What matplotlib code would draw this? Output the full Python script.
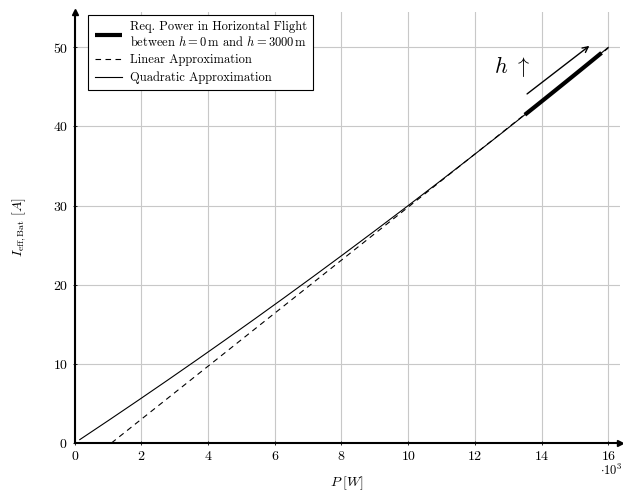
import numpy as np
import matplotlib
matplotlib.use("Agg")
import matplotlib.pyplot as plt

plt.rcParams['font.family'] = 'serif'
plt.rcParams['font.serif'] = ['cmr10', 'DejaVu Serif']
plt.rcParams['mathtext.fontset'] = 'cm'
plt.rcParams['axes.formatter.use_mathtext'] = True

# Data (power in 10^3 W, current in A)
quad_coef = [0.0, 2.792, 0.0208]          # I = a + b P + c P^2
lin_coef = [-3.69, 3.35]                  # I = a + b P
P_quad = np.linspace(0.15, 16.0, 200)
P_lin = np.linspace(1.1, 16.0, 200)
P_req = np.linspace(13.5, 15.8, 50)
arrow_start = (13.5, 43.9)
arrow_end = (15.5, 50.4)
x_ticks = [0, 2, 4, 6, 8, 10, 12, 14, 16]
y_ticks = [0, 10, 20, 30, 40, 50]

def quad(p):
    return quad_coef[0] + quad_coef[1] * p + quad_coef[2] * p ** 2

def lin(p):
    return lin_coef[0] + lin_coef[1] * p

fig = plt.figure(figsize=(6.23, 4.90), dpi=100)
ax = fig.add_axes([0.120, 0.096, 0.875, 0.880])

ax.plot(P_req, quad(P_req), color='black', lw=3.0, solid_capstyle='butt',
        label='Req. Power in Horizontal Flight\nbetween $h=0\\,\\mathrm{m}$ and $h=3000\\,\\mathrm{m}$', zorder=4)
ax.plot(P_lin, lin(P_lin), color='black', lw=0.8, ls=(0, (5, 4)), label='Linear Approximation', zorder=3)
ax.plot(P_quad, quad(P_quad), color='black', lw=0.8, label='Quadratic Approximation', zorder=5)

ax.annotate('', xy=arrow_end, xytext=arrow_start,
            arrowprops=dict(arrowstyle='->', color='black', lw=1.0))
ax.text(13.1, 47.6, r'$h\ \uparrow$', fontsize=16, ha='center', va='center')

ax.set_xlim(0, 16.35)
ax.set_ylim(0, 54.5)
ax.set_xticks(x_ticks)
ax.set_yticks(y_ticks)
ax.grid(True, color='#c8c8c8', lw=0.8)
ax.set_axisbelow(True)
ax.tick_params(labelsize=10, length=3, width=0.6, direction='inout')
for s in ['top', 'right']:
    ax.spines[s].set_visible(False)
for s in ['left', 'bottom']:
    ax.spines[s].set_linewidth(1.5)
ax.plot(1, 0, '>k', transform=ax.transAxes, clip_on=False, ms=5)
ax.plot(0, 1, '^k', transform=ax.transAxes, clip_on=False, ms=5)

ax.set_xlabel('$P\\ [W]$', fontsize=10, labelpad=8)
ax.set_ylabel('$I_{\\mathrm{eff,Bat}}\\ [A]$', fontsize=10, labelpad=18)
ax.text(1.004, -0.063, r'$\cdot 10^3$', transform=ax.transAxes, fontsize=9, ha='right', va='center')

leg = ax.legend(loc='upper left', fontsize=9, frameon=True, fancybox=False,
                edgecolor='black', framealpha=1, handlelength=2.2, borderpad=0.5,
                labelspacing=0.4, handletextpad=0.6, borderaxespad=0,
                bbox_to_anchor=(0.025, 0.993))
leg.get_frame().set_linewidth(0.8)

fig.savefig('out.png', dpi=100)
